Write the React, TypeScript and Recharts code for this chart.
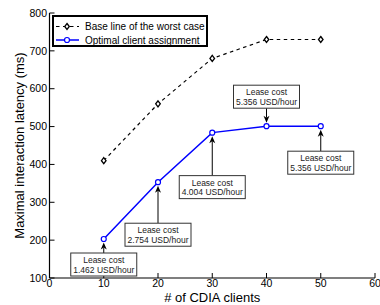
import React from 'react';
import { LineChart, Line, XAxis, YAxis, Legend } from 'recharts';

// データ
const CLIENTS = [10, 20, 30, 40, 50];
const BASELINE = [410, 560, 680, 730, 730];
const OPTIMAL = [203, 353, 484, 501, 501];
const LEASE_COST = ['1.462', '2.754', '4.004', '5.356', '5.356'];
const X_TICKS = [0, 10, 20, 30, 40, 50, 60];
const Y_TICKS = [100, 200, 300, 400, 500, 600, 700, 800];

// 点と吹き出しの距離 (負の値 = 点の上に配置)
const CALLOUT_GAP = [14, 41, 43, -18, 25];

const FONT = '"Liberation Sans", Arial, sans-serif';

const data = CLIENTS.map((c, i) => ({
    clients: c,
    baseline: BASELINE[i],
    optimal: OPTIMAL[i],
    cost: LEASE_COST[i],
}));

const Diamond = (props: any) => {
    const { cx, cy, index } = props;
    if (cx == null || cy == null) return <g key={`d-${index}`} />;
    return (
        <path
            key={`d-${index}`}
            d={`M${cx},${cy - 3} L${cx + 2.3},${cy} L${cx},${cy + 3} L${cx - 2.3},${cy} Z`}
            fill="#fff"
            stroke="#000"
            strokeWidth={1.3}
        />
    );
};

// 円マーカー + リースコストの吹き出し
const CostDot = (props: any) => {
    const { cx, cy, index, payload } = props;
    if (cx == null || cy == null) return <g key={`c-${index}`} />;
    const gap = CALLOUT_GAP[index];
    const below = gap > 0;
    const w = 66;
    const h = 23;
    const boxTop = below ? cy + gap : cy + gap - h;
    const lineStart = below ? boxTop : boxTop + h;
    const dir = below ? 1 : -1;
    const tip = cy + dir * 3.5;
    return (
        <g key={`c-${index}`}>
            <line x1={cx} y1={lineStart} x2={cx} y2={tip + dir * 5} stroke="#000" strokeWidth={1} />
            <polygon
                points={`${cx},${tip} ${cx - 3},${tip + dir * 7} ${cx},${tip + dir * 5} ${cx + 3},${tip + dir * 7}`}
                fill="#000"
            />
            <rect x={cx - w / 2} y={boxTop} width={w} height={h} fill="#fff" stroke="#333" strokeWidth={1} />
            <text x={cx} y={boxTop + 10} textAnchor="middle" fontSize={8.5} fontFamily={FONT} fill="#222">
                Lease cost
            </text>
            <text x={cx} y={boxTop + 19.5} textAnchor="middle" fontSize={8.5} fontFamily={FONT} fill="#222">
                {payload.cost} USD/hour
            </text>
            <circle cx={cx} cy={cy} r={2.5} fill="#fff" stroke="#0000ff" strokeWidth={1.2} />
        </g>
    );
};

const LegendBox = () => (
    <svg width={156} height={32} style={{ display: 'block' }}>
        <rect x={1} y={1} width={154} height={30} fill="#fff" stroke="#000" strokeWidth={2} />
        <line x1={4} y1={11.5} x2={27} y2={11.5} stroke="#000" strokeWidth={1.2} strokeDasharray="3.5 3.5" />
        <path d="M15,8.5 L17.3,11.5 L15,14.5 L12.7,11.5 Z" fill="#fff" stroke="#000" strokeWidth={1.3} />
        <text x={33} y={15} fontSize={10} fontFamily={FONT} fill="#000">Base line of the worst case</text>
        <line x1={4} y1={25} x2={27} y2={25} stroke="#0000ff" strokeWidth={1.5} />
        <circle cx={15} cy={25} r={2.5} fill="#fff" stroke="#0000ff" strokeWidth={1.2} />
        <text x={33} y={28.5} fontSize={10} fontFamily={FONT} fill="#000">Optimal client assignment</text>
    </svg>
);

const tickStyle = { fontSize: 10.5, fontFamily: FONT, fill: '#000' };
const axisLine = { stroke: '#000', strokeWidth: 1.2 };

export default function App() {
    return (
        <div style={{ position: 'absolute', left: 0, top: 0, background: '#fff' }}>
            <LineChart width={380} height={305} data={data} margin={{ top: 13, right: 5, bottom: 0, left: 0 }}>
                <XAxis
                    dataKey="clients"
                    type="number"
                    domain={[0, 60]}
                    ticks={X_TICKS}
                    interval={0}
                    height={27}
                    tick={tickStyle}
                    axisLine={axisLine}
                    tickLine={{ stroke: '#000' }}
                    tickSize={-5}
                    tickMargin={7}
                    label={{ value: '# of CDIA clients', position: 'center', dy: 6, fontSize: 13, fontFamily: FONT, fill: '#000' }}
                />
                <XAxis
                    xAxisId="top"
                    orientation="top"
                    type="number"
                    domain={[0, 60]}
                    ticks={X_TICKS}
                    interval={0}
                    height={0}
                    tick={false}
                    axisLine={axisLine}
                    tickLine={{ stroke: '#000' }}
                    tickSize={-5}
                />
                <YAxis
                    type="number"
                    domain={[100, 800]}
                    ticks={Y_TICKS}
                    interval={0}
                    width={49.5}
                    tick={tickStyle}
                    axisLine={axisLine}
                    tickLine={{ stroke: '#000' }}
                    tickSize={-5}
                    tickMargin={7.5}
                    label={{ value: 'Maximal interaction latency (ms)', angle: -90, position: 'center', dx: -5, fontSize: 13, fontFamily: FONT, fill: '#000' }}
                />
                <YAxis
                    yAxisId="right"
                    orientation="right"
                    type="number"
                    domain={[100, 800]}
                    ticks={Y_TICKS}
                    interval={0}
                    width={0}
                    tick={false}
                    axisLine={axisLine}
                    tickLine={{ stroke: '#000' }}
                    tickSize={-5}
                />
                <Legend
                    layout="vertical"
                    align="center"
                    verticalAlign="middle"
                    wrapperStyle={{ top: 15, left: 52, width: 156, height: 32 }}
                    content={() => <LegendBox />}
                />
                <Line
                    dataKey="baseline"
                    stroke="#000"
                    strokeWidth={1.2}
                    strokeDasharray="3.5 3.5"
                    dot={Diamond}
                    activeDot={false}
                    isAnimationActive={false}
                />
                <Line
                    dataKey="optimal"
                    stroke="#0000ff"
                    strokeWidth={1.5}
                    dot={CostDot}
                    activeDot={false}
                    isAnimationActive={false}
                />
            </LineChart>
        </div>
    );
}
